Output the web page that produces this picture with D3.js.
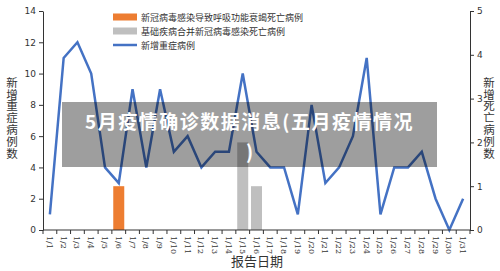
<!DOCTYPE html>
<html>
<head>
<meta charset="utf-8">
<script src="https://cdn.jsdelivr.net/npm/d3@7"></script>
<style>
  body { margin: 0; background: #fff; }
  svg { display: block; font-family: "Noto Sans CJK SC", "DejaVu Sans", sans-serif; }
</style>
</head>
<body>
<script>
// data
var dates = ["1/1","1/2","1/3","1/4","1/5","1/6","1/7","1/8","1/9","1/10","1/11","1/12","1/13","1/14","1/15","1/16",
             "1/17","1/18","1/19","1/20","1/21","1/22","1/23","1/24","1/25","1/26","1/27","1/28","1/29","1/30","1/31"];
var severeCases = [1,11,12,10,4,3,9,4,9,5,6,4,5,5,10,5,4,4,1,8,3,4,6,11,1,4,4,5,2,0,2];
var respDeaths = [{date: "1/6", value: 1}];
var comorbDeaths = [{date: "1/15", value: 2}, {date: "1/16", value: 1}];
var leftTicks = [0,2,4,6,8,10,12,14];
var rightTicks = [0,1,2,3,4,5];
var legendNames = ["新冠病毒感染导致呼吸功能衰竭死亡病例", "基础疾病合并新冠病毒感染死亡病例", "新增重症病例"];

var width = 500, height = 271;
var margin = {top: 11, right: 30, bottom: 41, left: 43};

var svg = d3.select("body").append("svg")
    .attr("width", width)
    .attr("height", height);

var xscale = d3.scaleBand()
    .domain(dates)
    .range([margin.left, width - margin.right]);

var yleft = d3.scaleLinear()
    .domain([0, 14])
    .range([height - margin.bottom, margin.top]);

var yright = d3.scaleLinear()
    .domain([0, 5])
    .range([height - margin.bottom, margin.top]);

var barW = 11;

// bars
svg.append("g").selectAll("rect")
    .data(respDeaths)
    .join("rect")
    .attr("x", d => xscale(d.date) + xscale.bandwidth() / 2 - barW / 2)
    .attr("y", d => yright(d.value))
    .attr("width", barW)
    .attr("height", d => yright(0) - yright(d.value))
    .attr("fill", "#ed7d31");

svg.append("g").selectAll("rect")
    .data(comorbDeaths)
    .join("rect")
    .attr("x", d => xscale(d.date) + xscale.bandwidth() / 2 - barW / 2)
    .attr("y", d => yright(d.value))
    .attr("width", barW)
    .attr("height", d => yright(0) - yright(d.value))
    .attr("fill", "#bfbfbf");

// line
var line = d3.line()
    .x((d, i) => xscale(dates[i]) + xscale.bandwidth() / 2)
    .y(d => yleft(d));

svg.append("path")
    .datum(severeCases)
    .attr("fill", "none")
    .attr("stroke", "#4472c4")
    .attr("stroke-width", 2.5)
    .attr("stroke-linejoin", "miter")
    .attr("d", line);

// left axis
svg.append("g")
    .attr("transform", `translate(${margin.left},0)`)
    .call(d3.axisLeft(yleft).tickValues(leftTicks).tickFormat(d3.format("d")).tickSize(4).tickSizeOuter(0))
    .call(g => g.selectAll("path, line").attr("stroke", "#333"))
    .call(g => g.selectAll("text").attr("fill", "#333").attr("font-size", 9).attr("font-family", "DejaVu Sans"));

// right axis
svg.append("g")
    .attr("transform", `translate(${width - margin.right},0)`)
    .call(d3.axisRight(yright).tickValues(rightTicks).tickFormat(d3.format("d")).tickSize(4).tickSizeOuter(0))
    .call(g => g.selectAll("path, line").attr("stroke", "#333"))
    .call(g => g.selectAll("text").attr("fill", "#333").attr("font-size", 9).attr("font-family", "DejaVu Sans"));

// bottom axis, ticks sit on the band edges
var xg = svg.append("g")
    .attr("transform", `translate(0,${height - margin.bottom})`);
xg.append("line")
    .attr("x1", margin.left).attr("x2", width - margin.right)
    .attr("stroke", "#333");
xg.selectAll(".edge")
    .data(dates.concat(["end"]))
    .join("line")
    .attr("class", "edge")
    .attr("x1", (d, i) => margin.left + i * xscale.step())
    .attr("x2", (d, i) => margin.left + i * xscale.step())
    .attr("y2", 4)
    .attr("stroke", "#333");
xg.selectAll("text")
    .data(dates)
    .join("text")
    .attr("transform", d => `translate(${xscale(d) + xscale.bandwidth() / 2 - 3},6) rotate(90)`)
    .attr("font-size", 8)
    .attr("font-family", "DejaVu Serif")
    .attr("fill", "#333")
    .text(d => d);

// axis titles, written top to bottom with upright characters
function vertical(label, x) {
    svg.append("text")
        .attr("x", x)
        .attr("y", 118)
        .attr("text-anchor", "middle")
        .attr("font-size", 11.5)
        .attr("letter-spacing", 0.3)
        .attr("fill", "#333")
        .style("writing-mode", "vertical-rl")
        .style("text-orientation", "upright")
        .text(label);
}
vertical("新增重症病例数", 12);
vertical("新增死亡病例数", 489);

svg.append("text")
    .attr("x", 257)
    .attr("y", 266)
    .attr("text-anchor", "middle")
    .attr("font-size", 13)
    .attr("fill", "#333")
    .text("报告日期");

// legend
var legend = svg.append("g").attr("transform", "translate(113,17)");
legendNames.forEach(function(name, i) {
    var row = legend.append("g").attr("transform", `translate(0,${i * 14})`);
    if (i < 2) {
        row.append("rect")
            .attr("x", 0).attr("y", -3.5)
            .attr("width", 24).attr("height", 7)
            .attr("fill", i == 0 ? "#ed7d31" : "#bfbfbf");
    } else {
        row.append("line")
            .attr("x1", 0).attr("x2", 24)
            .attr("stroke", "#4472c4")
            .attr("stroke-width", 2.5);
    }
    row.append("text")
        .attr("x", 28)
        .attr("y", 3.5)
        .attr("font-size", 9)
        .attr("fill", "#333")
        .text(name);
});

// title banner on top
svg.append("rect")
    .attr("x", 62).attr("y", 102)
    .attr("width", 375).attr("height", 65)
    .attr("fill", "rgba(0,0,0,0.38)");

svg.append("text")
    .attr("x", 249.5)
    .attr("y", 129)
    .attr("text-anchor", "middle")
    .attr("font-size", 19)
    .attr("font-weight", "bold")
    .attr("letter-spacing", 1.5)
    .attr("fill", "#fff")
    .text("5月疫情确诊数据消息(五月疫情情况");

svg.append("text")
    .attr("x", 249.5)
    .attr("y", 159)
    .attr("text-anchor", "middle")
    .attr("font-size", 19)
    .attr("font-weight", "bold")
    .attr("fill", "#fff")
    .text(")");
</script>
</body>
</html>
